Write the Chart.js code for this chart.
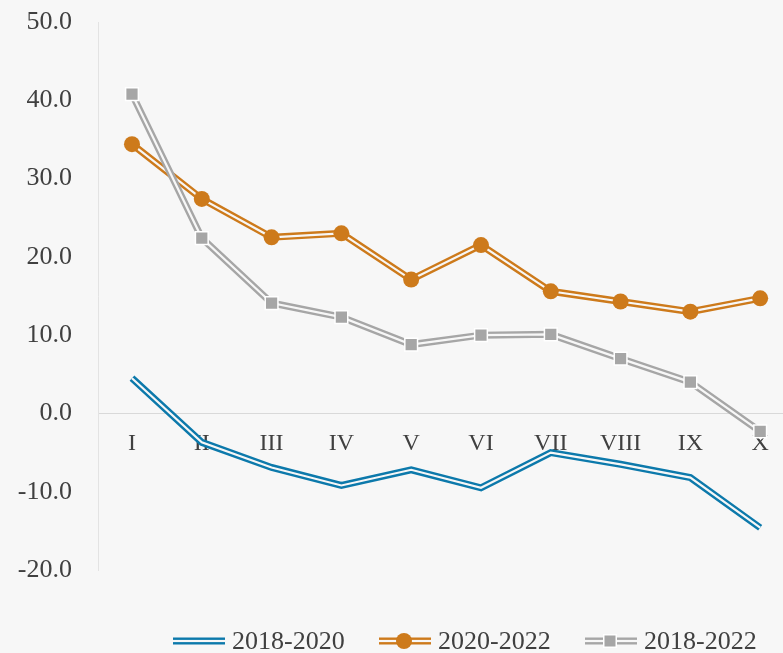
<!DOCTYPE html>
<html>
<head>
<meta charset="utf-8">
<script src="https://cdn.jsdelivr.net/npm/chart.js@4/dist/chart.umd.min.js"></script>
<style>
	html, body { margin: 0; padding: 0; background: #f7f7f7; }
	#wrap { width: 783px; height: 653px; }
</style>
</head>
<body>
<div id="wrap"><canvas id="chart" width="783" height="653"></canvas></div>
<script>
const categories = ["I", "II", "III", "IV", "V", "VI", "VII", "VIII", "IX", "X"];
const yTicks = [-20, -10, 0, 10, 20, 30, 40, 50];
const seriesNames = ["2018-2020", "2020-2022", "2018-2022"];
const values1820 = [4.5, -3.7, -6.9, -9.2, -7.2, -9.5, -5.0, -6.5, -8.2, -14.6];
const values2022 = [34.4, 27.4, 22.5, 23.0, 17.1, 21.5, 15.6, 14.3, 13.0, 14.7];
const values1822 = [40.8, 22.4, 14.1, 12.3, 8.8, 10.0, 10.1, 7.0, 4.0, -2.3];

const BG = "#f7f7f7";
const TEXT = "#404040";
const FONT = "'Liberation Serif', 'DejaVu Serif', serif";
const colors = ["#0c79ab", "#cd7a1b", "#a6a6a6"];

const toPoints = vals => vals.map((v, i) => ({ x: i, y: v }));

// each series: thick coloured line, thin background line on top, then markers
function doubleLine(vals, color, baseOrder, marker) {
	const sets = [
		{ data: toPoints(vals), borderColor: color, borderWidth: 7, pointRadius: 0, order: baseOrder + 2 },
		{ data: toPoints(vals), borderColor: BG, borderWidth: 2.2, pointRadius: 0, order: baseOrder + 1 }
	];
	if (marker) {
		sets.push({
			data: toPoints(vals), showLine: false, order: baseOrder,
			pointStyle: marker.style, pointRadius: marker.radius,
			backgroundColor: color, pointBorderColor: marker.border, pointBorderWidth: marker.borderWidth
		});
	}
	return sets;
}

const legendPlugin = {
	id: "doubleLegend",
	afterDraw(chart) {
		const ctx = chart.ctx;
		const y = 641;
		const items = [
			{ x: 173, color: colors[0], marker: null },
			{ x: 379, color: colors[1], marker: "circle" },
			{ x: 585, color: colors[2], marker: "rect" }
		];
		ctx.save();
		items.forEach((it, i) => {
			ctx.fillStyle = it.color;
			ctx.fillRect(it.x, y - 3.5, 52, 7);
			ctx.fillStyle = BG;
			ctx.fillRect(it.x, y - 1.1, 52, 2.2);
			if (it.marker === "circle") {
				ctx.fillStyle = it.color;
				ctx.beginPath();
				ctx.arc(it.x + 25, y, 8, 0, Math.PI * 2);
				ctx.fill();
			} else if (it.marker === "rect") {
				ctx.fillStyle = "#ffffff";
				ctx.fillRect(it.x + 18, y - 7, 14, 14);
				ctx.fillStyle = it.color;
				ctx.fillRect(it.x + 19.5, y - 5.5, 11, 11);
			}
			ctx.fillStyle = TEXT;
			ctx.font = "26px " + FONT;
			ctx.textBaseline = "middle";
			ctx.textAlign = "left";
			ctx.fillText(seriesNames[i], it.x + 59, y + 1);
		});
		ctx.restore();
	}
};

new Chart(document.getElementById("chart"), {
	type: "line",
	data: {
		datasets: [
			...doubleLine(values1820, colors[0], 6, null),
			...doubleLine(values2022, colors[1], 3, { style: "circle", radius: 8, border: colors[1], borderWidth: 0 }),
			...doubleLine(values1822, colors[2], 0, { style: "rect", radius: 9, border: "#ffffff", borderWidth: 1.5 })
		]
	},
	options: {
		responsive: false,
		animation: false,
		layout: { autoPadding: false, padding: { top: 22, bottom: 83, left: 0, right: 0 } },
		plugins: { legend: { display: false }, tooltip: { enabled: false } },
		elements: { line: { tension: 0, fill: false } },
		scales: {
			x: {
				type: "linear",
				position: { y: 0 },
				min: -0.487,
				max: 9.327,
				afterBuildTicks: scale => { scale.ticks = categories.map((c, i) => ({ value: i })); },
				afterFit: scale => { scale.paddingLeft = 0; scale.paddingRight = 0; },
				ticks: {
					callback: v => categories[v],
					color: TEXT,
					font: { family: FONT, size: 24 },
					padding: 16,
					maxRotation: 0,
					autoSkip: false
				},
				grid: { display: false, drawTicks: false },
				border: { display: true, color: "#d9d9d9", width: 1 }
			},
			y: {
				min: -20,
				max: 50,
				afterBuildTicks: scale => { scale.ticks = yTicks.map(v => ({ value: v })); },
				afterFit: scale => { scale.width = 98; scale.paddingTop = 0; scale.paddingBottom = 0; },
				ticks: {
					callback: v => v.toFixed(1),
					color: TEXT,
					font: { family: FONT, size: 26 },
					padding: 26
				},
				grid: { display: false, drawTicks: false },
				border: { display: true, color: "#e3e3e3", width: 1 }
			}
		}
	},
	plugins: [legendPlugin]
});
</script>
</body>
</html>
